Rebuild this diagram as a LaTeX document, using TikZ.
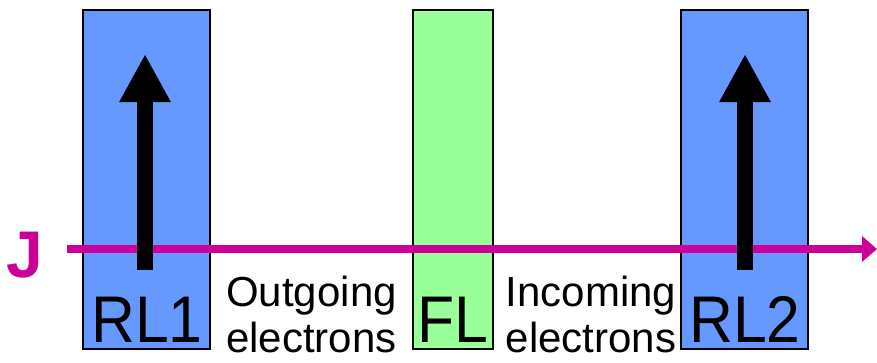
\documentclass[tikz,border=0pt]{standalone}
\usepackage{fontspec}
\setmainfont{Liberation Sans}
\usetikzlibrary{arrows.meta,positioning}
\definecolor{refblue}{HTML}{6699FF}
\definecolor{ferrogreen}{HTML}{99FF99}
\definecolor{currentmag}{HTML}{CC0099}
\newcommand{\narrowlab}[1]{\scalebox{0.92}[1]{#1}}

\begin{document}
\begin{tikzpicture}[
        x=1pt, y=-1pt,
        layer/.style={draw=black, line width=1.5pt, minimum height=339pt, inner sep=0pt},
        rlbox/.style={layer, fill=refblue, minimum width=127pt},
        flbox/.style={layer, fill=ferrogreen, minimum width=80pt},
        biglabel/.style={font=\fontsize{66}{70}\selectfont, inner sep=0pt, anchor=base},
        textlabel/.style={font=\fontsize{42}{46}\selectfont, align=center, inner sep=0pt, anchor=south},
        current/.style={draw=currentmag, line width=8pt, -{Triangle[length=15pt, width=25pt]}},
        moment/.style={draw=black, line width=16pt, -{Triangle[length=48pt, width=48pt]}}
    ]
        \useasboundingbox (0,0) rectangle (877,362);

        % Layers
        \node[rlbox] (rl1) at (146.5,179.5) {};
        \node[flbox] (fl) at (453,179.5) {};
        \node[rlbox] (rl2) at (744.5,179.5) {};

        % Current
        \node[text=currentmag, font=\fontsize{66}{70}\selectfont\bfseries, inner sep=0pt, anchor=base] (j) at (25,277) {J};
        \coordinate (jstart) at (67,249);
        \coordinate (jend) at (877,249);
        \draw[current] (jstart) -- (jend);

        % Magnetisation arrows
        \coordinate (m1a) at (145,270);
        \coordinate (m1b) at (145,54);
        \coordinate (m2a) at (745,270);
        \coordinate (m2b) at (745,54);
        \draw[moment] (m1a) -- (m1b);
        \draw[moment] (m2a) -- (m2b);

        % Labels
        \node[biglabel] (rl1lab) at (147,342) {\narrowlab{RL1}};
        \node[biglabel] (fllab) at (453,342) {\narrowlab{FL}};
        \node[biglabel] (rl2lab) at (745,342) {\narrowlab{RL2}};
        \node[textlabel] (outlab) at (311.5,353) {Outgoing\\electrons};
        \node[textlabel] (inlab) at (591,353) {Incoming\\electrons};
    \end{tikzpicture}
\end{document}
